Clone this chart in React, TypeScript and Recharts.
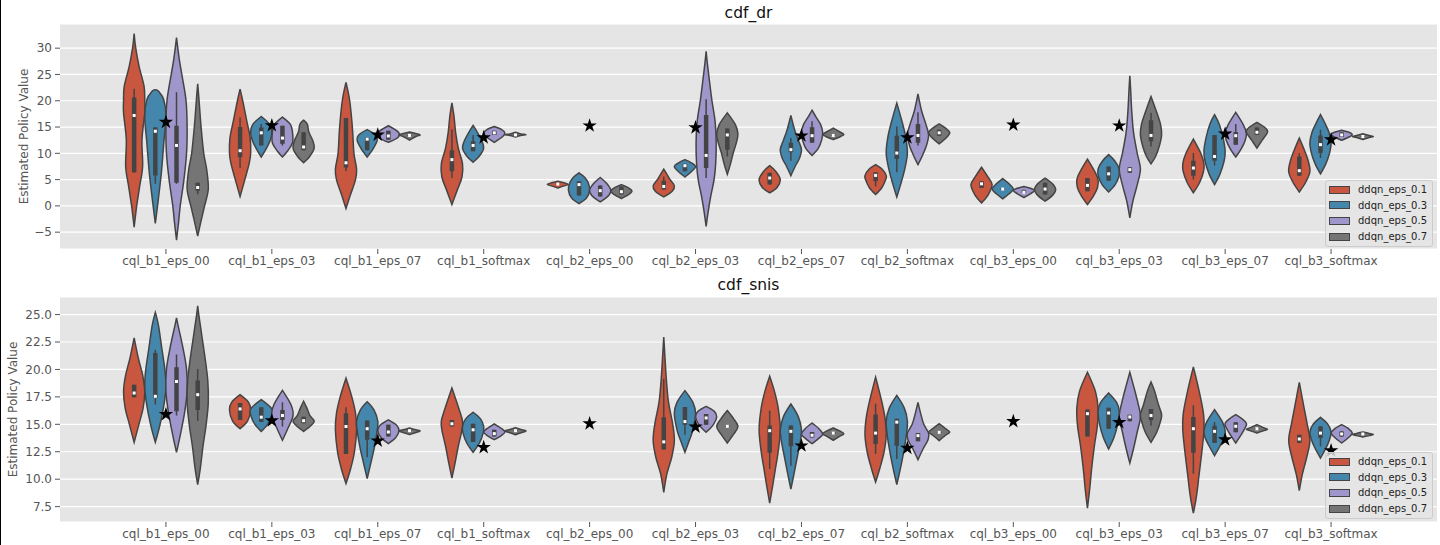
import React from 'react';
import { ComposedChart, Scatter, XAxis, YAxis, ZAxis, CartesianGrid, Legend } from 'recharts';

const CATEGORIES = [
  'cql_b1_eps_00', 'cql_b1_eps_03', 'cql_b1_eps_07', 'cql_b1_softmax',
  'cql_b2_eps_00', 'cql_b2_eps_03', 'cql_b2_eps_07', 'cql_b2_softmax',
  'cql_b3_eps_00', 'cql_b3_eps_03', 'cql_b3_eps_07', 'cql_b3_softmax',
];
const HUES = ['ddqn_eps_0.1', 'ddqn_eps_0.3', 'ddqn_eps_0.5', 'ddqn_eps_0.7'];
const COLORS = ['#C9573F', '#4586AC', '#9F97CC', '#757575'];
const EDGE = '#444444';
const FONT = '"DejaVu Sans", sans-serif';
const HUE_OFFSET = [-0.3, -0.1, 0.1, 0.3];
const HALF = 0.1;
const CAT_TICKS = CATEGORIES.map((_, i) => i);

// ---- cdf_dr ----
const DR_TICKS = [-5, 0, 5, 10, 15, 20, 25, 30];
const DR_STARS = [15.95, 15.3, 13.5, 13.0, 15.25, 14.9, 13.35, 13.0, 15.4, 15.25, 13.7, 12.6];
// [whisker low, q1, median, q3, whisker high], four hues per category
const DR_BOXES = [
  [6.3, 6.4, 17.2, 20.6, 22.3], [4.2, 5.8, 14.2, 14.9, 15.0], [4.2, 4.4, 11.5, 15.25, 21.6], [2.2, 2.9, 3.5, 4.4, 4.4],
  [7.2, 9.24, 10.5, 15.0, 16.8], [11.5, 11.5, 13.9, 14.9, 15.6], [11.5, 11.8, 12.9, 15.25, 15.25], [10.6, 10.6, 11.2, 14.0, 14.0],
  [6.6, 7.3, 8.2, 16.7, 16.7], [10.6, 10.6, 12.7, 13.0, 13.0], [12.6, 12.6, 13.3, 14.3, 14.3], [13.3, 13.35, 13.4, 13.5, 13.5],
  [5.3, 6.6, 8.8, 10.6, 14.6], [10.4, 10.4, 11.5, 12.3, 13.5], [13.5, 13.5, 13.9, 14.3, 14.3], [13.45, 13.45, 13.5, 13.6, 13.6],
  [4.0, 4.05, 4.15, 4.25, 4.3], [1.96, 1.96, 4.05, 4.7, 4.7], [1.8, 1.8, 2.9, 3.9, 3.9], [2.15, 2.15, 2.7, 3.7, 3.7],
  [3.1, 3.1, 3.7, 4.8, 5.6], [6.6, 6.6, 7.65, 8.0, 8.0], [5.3, 7.2, 9.6, 17.3, 20.3], [9.4, 10.7, 13.5, 14.7, 14.7],
  [4.05, 4.05, 5.3, 6.3, 6.3], [8.6, 10.2, 10.7, 12.0, 12.9], [12.0, 12.0, 13.35, 14.95, 16.1], [13.2, 13.3, 13.4, 13.6, 13.6],
  [3.7, 4.7, 5.8, 6.4, 6.4], [6.4, 8.9, 10.05, 13.35, 15.1], [11.5, 12.0, 13.4, 15.6, 17.8], [13.35, 13.35, 13.9, 14.5, 14.5],
  [3.4, 3.4, 4.2, 4.7, 4.7], [3.0, 3.05, 3.2, 3.35, 3.4], [2.4, 2.45, 2.6, 3.0, 3.1], [2.15, 2.15, 3.2, 4.4, 4.4],
  [2.8, 2.8, 3.9, 5.3, 5.3], [4.8, 4.8, 6.1, 7.5, 7.5], [6.3, 6.3, 6.9, 7.35, 7.35], [11.3, 12.3, 13.4, 16.3, 17.7],
  [5.0, 5.75, 7.2, 8.6, 10.05], [7.7, 8.6, 9.4, 13.5, 13.5], [11.65, 11.65, 13.35, 14.05, 15.6], [13.5, 13.5, 14.0, 14.9, 14.9],
  [5.75, 5.75, 6.7, 9.4, 10.0], [9.1, 10.05, 11.65, 13.4, 14.5], [13.1, 13.1, 13.5, 14.0, 14.0], [13.1, 13.1, 13.2, 13.3, 13.3],
];
// violin outlines: [value, relative half-width]
const DR_SHAPES = [
  [[-4.05, 0], [0, 0.24], [3.7, 0.52], [7.5, 0.8], [12.6, 0.74], [17.7, 1.0], [20, 1.0], [22.7, 0.94], [26.5, 0.47], [30, 0.15], [32.8, 0]],
  [[-3.35, 0], [1.2, 0.28], [6.3, 0.57], [12, 0.8], [17, 1.0], [20.2, 0.8], [21.8, 0.31], [22.1, 0]],
  [[-6.5, 0], [-3, 0.2], [0, 0.35], [5, 0.7], [10, 0.95], [15, 1.0], [20, 0.9], [25, 0.5], [28, 0.25], [32, 0]],
  [[-5.76, 0], [-3, 0.3], [0, 0.65], [3.2, 1.0], [6.9, 0.85], [10, 0.57], [15, 0.32], [20, 0.13], [23.2, 0]],

  [[1.8, 0], [5, 0.45], [8, 0.85], [10, 1.0], [13, 0.95], [16, 0.65], [20, 0.25], [22.2, 0]],
  [[9.3, 0], [11, 0.5], [12.5, 0.85], [14, 1.0], [15.5, 0.8], [17, 0]],
  [[9.3, 0], [10.5, 0.5], [12, 0.95], [14, 0.95], [15.5, 0.75], [16.9, 0]],
  [[8.2, 0], [9.5, 0.6], [11, 1.0], [12.5, 0.85], [14, 0.5], [15.5, 0.35], [16.3, 0]],

  [[-0.5, 0], [2, 0.4], [5, 0.9], [7, 1.0], [10, 0.75], [15, 0.6], [20, 0.35], [23.5, 0]],
  [[9.3, 0], [11, 0.6], [12.5, 0.95], [13.5, 0.8], [14.5, 0]],
  [[12.1, 0], [13, 0.9], [14, 0.95], [15.25, 0]],
  [[12.5, 0], [13.2, 0.6], [13.5, 1.0], [13.8, 0.5], [14.05, 0]],

  [[0.25, 0], [3, 0.5], [5.5, 0.95], [8, 1.0], [11, 0.6], [14, 0.35], [17, 0.2], [19.6, 0]],
  [[8.3, 0], [9.5, 0.6], [11, 1.0], [12.5, 0.8], [14, 0.4], [15.3, 0]],
  [[12.1, 0], [13.2, 0.8], [13.9, 1.0], [14.5, 0.7], [15.1, 0]],
  [[13.1, 0], [13.4, 0.5], [13.55, 1.0], [13.7, 0.5], [14, 0]],

  [[3.4, 0], [3.8, 0.6], [4.1, 1.0], [4.4, 0.6], [4.7, 0]],
  [[0.45, 0], [1.5, 0.7], [3, 1.0], [4.5, 0.85], [5.5, 0.5], [6.3, 0]],
  [[0.76, 0], [2, 0.8], [3, 1.0], [4.3, 0.6], [5.4, 0]],
  [[1.4, 0], [2.2, 0.7], [2.8, 1.0], [3.4, 0.7], [4.05, 0]],

  [[1.7, 0], [2.8, 0.8], [3.8, 1.0], [5, 0.6], [6, 0.3], [7, 0]],
  [[5.5, 0], [6.5, 0.6], [7.5, 1.0], [8.2, 0.6], [8.8, 0]],
  [[-3.9, 0], [-1, 0.2], [2, 0.45], [5, 0.75], [8, 0.9], [12, 0.95], [16, 0.85], [20, 0.55], [24, 0.3], [27, 0.12], [29.4, 0]],
  [[6, 0], [8, 0.3], [10, 0.55], [12, 0.85], [13.7, 1.0], [15.5, 0.75], [17.7, 0]],

  [[2.5, 0], [3.5, 0.7], [5, 1.0], [6.5, 0.6], [7.65, 0]],
  [[5.75, 0], [7.5, 0.4], [9, 0.8], [10.7, 1.0], [12.5, 0.7], [14.5, 0.35], [17.2, 0]],
  [[9.6, 0], [11, 0.6], [12.5, 0.9], [14, 1.0], [15.5, 0.8], [17, 0.35], [18.2, 0]],
  [[12.6, 0], [13.2, 0.7], [13.6, 1.0], [14.1, 0.6], [14.8, 0]],

  [[2.15, 0], [3.5, 0.6], [5, 0.95], [5.8, 1.0], [7, 0.6], [7.85, 0]],
  [[1.7, 0], [4, 0.35], [7, 0.75], [10, 1.0], [13, 0.85], [16, 0.5], [19.55, 0]],
  [[7.85, 0], [9.5, 0.4], [11.5, 0.8], [13.5, 1.0], [15.5, 0.75], [18, 0.35], [21.3, 0]],
  [[11.8, 0], [12.8, 0.6], [13.9, 1.0], [14.8, 0.6], [15.6, 0]],

  [[0.57, 0], [2, 0.6], [4, 1.0], [5.5, 0.6], [7.35, 0]],
  [[1.35, 0], [2.3, 0.6], [3.2, 1.0], [4.2, 0.6], [5.2, 0]],
  [[1.6, 0], [2.3, 0.6], [2.9, 1.0], [3.3, 0.7], [3.7, 0]],
  [[0.9, 0], [2, 0.7], [3.1, 1.0], [4.2, 0.7], [5.3, 0]],

  [[0.25, 0], [2, 0.6], [3.5, 0.95], [5, 1.0], [6.5, 0.7], [8.9, 0]],
  [[2.65, 0], [4, 0.6], [5.5, 0.95], [7, 1.0], [8.5, 0.6], [9.75, 0]],
  [[-2.3, 0], [1, 0.3], [4, 0.7], [7, 1.0], [10, 0.7], [14, 0.35], [18, 0.18], [22, 0.08], [24.75, 0]],
  [[8, 0], [9.5, 0.45], [11.5, 0.8], [13.5, 1.0], [15.5, 0.9], [18, 0.5], [20.8, 0]],

  [[2.5, 0], [4.5, 0.6], [6.5, 0.95], [8, 1.0], [10, 0.7], [12.7, 0]],
  [[4.05, 0], [6, 0.5], [8.5, 0.9], [10.5, 1.0], [13, 0.8], [15.5, 0.45], [17.35, 0]],
  [[9.3, 0], [10.8, 0.5], [12.5, 0.9], [13.8, 1.0], [15.5, 0.7], [17.8, 0]],
  [[11, 0], [12.5, 0.5], [13.8, 0.95], [14.3, 1.0], [15, 0.7], [15.9, 0]],

  [[2.65, 0], [4.5, 0.6], [6.5, 1.0], [8.5, 0.85], [10.5, 0.5], [12.9, 0]],
  [[6.1, 0], [8, 0.5], [10, 0.85], [12, 1.0], [14, 0.8], [15.8, 0.4], [17.35, 0]],
  [[12.5, 0], [13.1, 0.7], [13.6, 1.0], [14, 0.7], [14.4, 0]],
  [[12.6, 0], [13.0, 0.6], [13.2, 1.0], [13.4, 0.6], [13.7, 0]],
];

// ---- cdf_snis ----
const SNIS_TICKS = [7.5, 10, 12.5, 15, 17.5, 20, 22.5, 25];
const SNIS_STARS = [15.9, 15.33, 13.5, 12.9, 15.06, 14.76, 13.05, 12.84, 15.27, 15.18, 13.6, 12.6];
const SNIS_BOXES = [
  [17.46, 17.46, 17.85, 18.6, 18.6], [16.8, 17.4, 17.55, 21.5, 21.8], [15.8, 16.2, 18.9, 20.2, 21.35], [15.3, 16.3, 17.7, 19.0, 20.05],
  [15.4, 15.4, 16.4, 16.95, 16.95], [15.2, 15.2, 15.65, 16.55, 16.55], [14.8, 15.4, 15.8, 16.3, 17.0], [15.1, 15.1, 15.33, 15.7, 15.7],
  [12.3, 12.3, 14.8, 16.0, 16.55], [12.0, 13.6, 14.6, 15.35, 15.35], [13.9, 13.9, 14.3, 14.95, 14.95], [14.35, 14.38, 14.42, 14.46, 14.5],
  [14.8, 14.8, 15.05, 15.4, 15.4], [13.4, 13.4, 14.5, 15.05, 15.05], [13.9, 13.9, 14.15, 14.5, 14.5], [14.35, 14.38, 14.42, 14.46, 14.5],
  null, null, null, null,
  [12.7, 12.7, 13.4, 15.65, 19.15], [14.05, 14.97, 15.25, 16.58, 16.58], [14.97, 14.97, 15.58, 15.94, 15.94], [14.7, 14.75, 14.82, 14.9, 14.95],
  [10.93, 12.4, 14.42, 14.9, 16.25], [11.23, 13.0, 14.36, 14.9, 14.9], [13.8, 13.8, 14.0, 14.3, 14.3], [14.1, 14.12, 14.2, 14.28, 14.3],
  [12.3, 13.2, 14.2, 15.9, 16.88], [11.84, 13.05, 15.2, 15.5, 15.5], [13.45, 13.45, 13.97, 14.2, 14.2], [14.2, 14.22, 14.27, 14.35, 14.4],
  null, null, null, null,
  [13.9, 13.9, 15.97, 16.34, 16.34], [14.6, 14.6, 16.03, 16.5, 16.5], [15.27, 15.27, 15.67, 15.88, 15.88], [14.88, 15.36, 15.8, 16.4, 16.4],
  [10.5, 12.4, 14.6, 15.67, 16.73], [13.3, 13.3, 14.36, 14.88, 15.2], [14.27, 14.27, 14.82, 15.18, 15.18], [14.5, 14.52, 14.6, 14.65, 14.7],
  [13.3, 13.3, 13.66, 14.06, 14.06], [13.0, 13.75, 14.2, 14.82, 14.82], [13.85, 13.9, 14.12, 14.35, 14.4], [14.05, 14.08, 14.12, 14.15, 14.18],
];
const SNIS_SHAPES = [
  [[13.36, 0], [15, 0.45], [16.5, 0.85], [18, 1.0], [19.5, 0.8], [21, 0.4], [22.87, 0]],
  [[13.36, 0], [15, 0.45], [17, 0.85], [18.5, 1.0], [20, 0.9], [22, 0.6], [24, 0.3], [25.2, 0]],
  [[12.45, 0], [14, 0.35], [16, 0.75], [18, 1.0], [20, 0.95], [22, 0.6], [24, 0.15], [24.7, 0]],
  [[9.5, 0], [11, 0.25], [13, 0.5], [15, 0.8], [17, 1.0], [19, 0.95], [21, 0.7], [23, 0.4], [25, 0.1], [25.8, 0]],

  [[14.6, 0], [15.3, 0.7], [16.3, 1.0], [17.0, 0.8], [17.7, 0]],
  [[14.35, 0], [15, 0.6], [15.7, 0.95], [16.4, 1.0], [17.25, 0]],
  [[13.55, 0], [14.6, 0.5], [15.8, 1.0], [16.8, 0.8], [18.1, 0]],
  [[14.35, 0], [14.9, 0.7], [15.3, 1.0], [15.8, 0.6], [16.5, 0.3], [17.1, 0]],

  [[9.6, 0], [11, 0.45], [12.5, 0.8], [14.5, 1.0], [16, 0.9], [17.5, 0.55], [19.2, 0]],
  [[10.05, 0], [11.5, 0.35], [13, 0.7], [14.5, 0.95], [15.3, 1.0], [16.3, 0.65], [17.05, 0]],
  [[13.25, 0], [13.8, 0.7], [14.4, 1.0], [14.9, 0.8], [15.4, 0]],
  [[14.06, 0], [14.25, 0.6], [14.4, 1.0], [14.5, 0.6], [14.67, 0]],

  [[10.1, 0], [11.5, 0.3], [13, 0.6], [14.5, 0.95], [15.3, 1.0], [16.3, 0.7], [18.3, 0]],
  [[12.45, 0], [13.3, 0.6], [14.2, 0.95], [14.8, 1.0], [15.5, 0.7], [16.1, 0]],
  [[13.6, 0], [14, 0.7], [14.3, 1.0], [14.6, 0.7], [15.05, 0]],
  [[14.05, 0], [14.25, 0.6], [14.4, 1.0], [14.5, 0.6], [14.7, 0]],

  null, null, null, null,

  [[8.8, 0], [10.5, 0.3], [12, 0.75], [13.5, 1.0], [15, 0.85], [17, 0.45], [19, 0.25], [21, 0.12], [22.96, 0]],
  [[12.45, 0], [13.5, 0.4], [14.5, 0.75], [16, 1.0], [17, 0.75], [18.07, 0]],
  [[14.27, 0], [15, 0.7], [15.7, 1.0], [16.2, 0.75], [16.64, 0]],
  [[13.3, 0], [14.1, 0.6], [14.8, 1.0], [15.5, 0.6], [16.25, 0]],

  [[7.83, 0], [9.5, 0.3], [11, 0.55], [12.5, 0.8], [14.5, 1.0], [16.5, 0.8], [18, 0.45], [19.38, 0]],
  [[9.1, 0], [10.5, 0.3], [12, 0.6], [13.5, 0.9], [14.5, 1.0], [15.7, 0.7], [16.85, 0]],
  [[13.24, 0], [13.7, 0.6], [14.1, 1.0], [14.6, 0.65], [15.12, 0]],
  [[13.55, 0], [13.9, 0.6], [14.15, 1.0], [14.4, 0.6], [14.67, 0]],

  [[9.74, 0], [11, 0.4], [12.5, 0.8], [14, 1.0], [15.5, 0.9], [17, 0.6], [19.3, 0]],
  [[9.5, 0], [11, 0.35], [12.5, 0.65], [14, 0.9], [15.3, 1.0], [16.5, 0.7], [17.64, 0]],
  [[11.78, 0], [12.8, 0.5], [13.6, 0.95], [14.2, 1.0], [15, 0.55], [16, 0.25], [17, 0]],
  [[13.51, 0], [14, 0.6], [14.3, 1.0], [14.6, 0.6], [15.06, 0]],

  null, null, null, null,

  [[7.37, 0], [9, 0.2], [11, 0.4], [13, 0.65], [15, 0.95], [16.5, 1.0], [18, 0.75], [19.74, 0]],
  [[12.75, 0], [13.8, 0.5], [15, 0.85], [16.2, 1.0], [17, 0.75], [17.86, 0]],
  [[11.47, 0], [12.8, 0.35], [14.3, 0.7], [15.7, 1.0], [17, 0.75], [18.5, 0.35], [19.74, 0]],
  [[13.36, 0], [14.3, 0.55], [15.3, 0.9], [15.9, 1.0], [16.8, 0.7], [18, 0.35], [18.86, 0]],

  [[6.9, 0], [8.5, 0.3], [10.5, 0.55], [12.5, 0.8], [14.5, 1.0], [16, 0.95], [18, 0.55], [20.23, 0]],
  [[12.14, 0], [13, 0.5], [13.8, 0.9], [14.4, 1.0], [15.2, 0.75], [16.34, 0]],
  [[13.3, 0], [14.1, 0.55], [14.8, 0.95], [15.1, 1.0], [15.5, 0.6], [15.88, 0]],
  [[14.2, 0], [14.4, 0.6], [14.55, 1.0], [14.7, 0.6], [14.97, 0]],

  [[8.95, 0], [10.5, 0.3], [12, 0.7], [13.5, 1.0], [15, 0.75], [16.5, 0.45], [18.83, 0]],
  [[11.93, 0], [12.8, 0.5], [13.6, 0.85], [14.3, 1.0], [15, 0.7], [15.64, 0]],
  [[13.3, 0], [13.8, 0.65], [14.2, 1.0], [14.6, 0.65], [14.97, 0]],
  [[13.84, 0], [13.97, 0.6], [14.07, 1.0], [14.17, 0.6], [14.3, 0]],
];

// closed smooth outline; the two tips (index 0 and n/2) stay pointed
const violinCurve = (ctx: any) => {
  let pts: number[][] = [];
  return {
    areaStart() {},
    areaEnd() {},
    lineStart() { pts = []; },
    point(x: number, y: number) { pts.push([x, y]); },
    lineEnd() {
      const n = pts.length;
      if (n < 3) return;
      const tan = pts.map((_, i) => {
        if (i === 0 || i === n / 2) return [0, 0];
        const a = pts[(i - 1 + n) % n];
        const b = pts[(i + 1) % n];
        return [(b[0] - a[0]) / 6, (b[1] - a[1]) / 6];
      });
      ctx.moveTo(pts[0][0], pts[0][1]);
      for (let i = 0; i < n; i++) {
        const j = (i + 1) % n;
        ctx.bezierCurveTo(
          pts[i][0] + tan[i][0], pts[i][1] + tan[i][1],
          pts[j][0] - tan[j][0], pts[j][1] - tan[j][1],
          pts[j][0], pts[j][1],
        );
      }
      ctx.closePath();
    },
  };
};

// draws point pairs as separate segments (whiskers / boxes)
const segmentCurve = (ctx: any) => {
  let i = 0;
  return {
    areaStart() {},
    areaEnd() {},
    lineStart() { i = 0; },
    point(x: number, y: number) {
      if (i % 2 === 0) ctx.moveTo(x, y);
      else ctx.lineTo(x, y);
      i++;
    },
    lineEnd() {},
  };
};

const ring = (c: number, prof: number[][]) => {
  const mid = prof.slice(1, -1);
  return [
    { x: c, y: prof[0][0] },
    ...mid.map(([v, w]) => ({ x: c + w * HALF, y: v })),
    { x: c, y: prof[prof.length - 1][0] },
    ...mid.slice().reverse().map(([v, w]) => ({ x: c - w * HALF, y: v })),
  ];
};

const Empty = () => <g />;
const MedianDot = (p: any) => <rect x={p.cx - 1.5} y={p.cy - 1.5} width={3} height={3} fill="#fff" />;

const LegendBox = () => (
  <div style={{
    width: 108, height: 67, boxSizing: 'border-box', padding: '1px 3px',
    background: 'rgba(229,229,229,0.8)', border: '1px solid #cccccc', borderRadius: 3,
  }}>
    {HUES.map((h, i) => (
      <div key={h} style={{ display: 'flex', alignItems: 'center', height: 15.6 }}>
        <span style={{ display: 'inline-block', width: 21, height: 8, boxSizing: 'border-box', background: COLORS[i], border: `1px solid ${EDGE}`, marginRight: 8 }} />
        <span style={{ fontFamily: FONT, fontSize: 10, color: '#222', whiteSpace: 'nowrap' }}>{h}</span>
      </div>
    ))}
  </div>
);

const makeYLabel = (dx: number) => (props: any) => {
  const vb = props.viewBox || {};
  const x = (vb.x ?? 0) + dx;
  const y = (vb.y ?? 0) + (vb.height ?? 0) / 2;
  return (
    <text x={x} y={y} transform={`rotate(-90, ${x}, ${y})`} textAnchor="middle" dominantBaseline="central"
      fill="#555" fontSize={12} fontFamily={FONT}>
      Estimated Policy Value
    </text>
  );
};

const fmtDr = (v: number) => (v < 0 ? '\u2212' + Math.abs(v) : String(v));
const fmtSnis = (v: number) => v.toFixed(1);

function Panel(props: any) {
  const { title, top, height, marginTop, domain, ticks, fmt, labelX, stars, boxes, shapes } = props;
  const pos = (k: number) => Math.floor(k / 4) + HUE_OFFSET[k % 4];
  const violins = shapes
    .map((prof: any, k: number) => (prof ? { k, hue: k % 4, pts: ring(pos(k), prof) } : null))
    .filter(Boolean);
  const stats = boxes.map((b: any, k: number) => (b ? { c: pos(k), b } : null)).filter(Boolean);
  const whiskers = stats.flatMap((s: any) => [{ x: s.c, y: s.b[0] }, { x: s.c, y: s.b[4] }]);
  const iqr = stats.flatMap((s: any) => [{ x: s.c, y: s.b[1] }, { x: s.c, y: s.b[3] }]);
  const medians = stats.map((s: any) => ({ x: s.c, y: s.b[2] }));
  const starData = stars.map((v: number, i: number) => ({ x: i, y: v }));

  return (
    <div style={{ position: 'absolute', left: 0, top, width: 1440, height }}>
      <div style={{
        position: 'absolute', left: 60, top: 4, width: 1377, height: 18, lineHeight: '18px',
        textAlign: 'center', fontFamily: FONT, fontSize: 15.5, color: '#111',
      }}>{title}</div>
      <ComposedChart width={1440} height={height} margin={{ top: marginTop, right: 3, bottom: 0, left: 0 }}>
        <CartesianGrid vertical={false} fill="#E5E5E5" fillOpacity={1} stroke="#ffffff" strokeWidth={1.2} />
        <XAxis type="number" dataKey="x" domain={[-1, 12]} ticks={CAT_TICKS} interval={0} allowDataOverflow
          tickFormatter={(v: number) => CATEGORIES[v] ?? ''} axisLine={false} height={23}
          tickSize={5} tickMargin={2} tickLine={{ stroke: '#555' }}
          tick={{ fill: '#555', fontSize: 12, fontFamily: FONT }} />
        <YAxis type="number" dataKey="y" domain={domain} ticks={ticks} allowDataOverflow width={60}
          tickFormatter={fmt} axisLine={false} tickSize={5} tickMargin={3} tickLine={{ stroke: '#555' }}
          tick={{ fill: '#555', fontSize: 12, fontFamily: FONT }} label={makeYLabel(labelX)} />
        <ZAxis range={[38, 38]} />
        {violins.map((v: any) => (
          <Scatter key={v.k} data={v.pts} shape={Empty} isAnimationActive={false}
            line={{ fill: COLORS[v.hue], stroke: EDGE, strokeWidth: 1.5 }}
            lineType="joint" lineJointType={violinCurve as any} />
        ))}
        <Scatter data={whiskers} shape={Empty} isAnimationActive={false}
          line={{ fill: 'none', stroke: EDGE, strokeWidth: 1.5 }} lineType="joint" lineJointType={segmentCurve as any} />
        <Scatter data={iqr} shape={Empty} isAnimationActive={false}
          line={{ fill: 'none', stroke: EDGE, strokeWidth: 4.5 }} lineType="joint" lineJointType={segmentCurve as any} />
        <Scatter data={medians} shape={MedianDot} isAnimationActive={false} />
        <Scatter data={starData} shape="star" fill="#000" isAnimationActive={false} />
        <Legend content={LegendBox} layout="horizontal" verticalAlign="middle" align="center"
          wrapperStyle={{ left: 1325, top: 180, width: 108, height: 67 }} />
      </ComposedChart>
    </div>
  );
}

export default function App() {
  return (
    <div style={{ position: 'absolute', left: 0, top: 0, width: 1440, height: 545, background: '#fff', overflow: 'hidden' }}>
      <Panel title="cdf_dr" top={0} height={272} marginTop={24} domain={[-8.2, 34.6]} ticks={DR_TICKS} fmt={fmtDr}
        labelX={24} stars={DR_STARS} boxes={DR_BOXES} shapes={DR_SHAPES} />
      <Panel title="cdf_snis" top={272} height={273} marginTop={25} domain={[6.1, 26.6]} ticks={SNIS_TICKS} fmt={fmtSnis}
        labelX={13} stars={SNIS_STARS} boxes={SNIS_BOXES} shapes={SNIS_SHAPES} />
      <div style={{ position: 'absolute', left: 0, top: 0, width: 1, height: 545, background: '#000' }} />
    </div>
  );
}
